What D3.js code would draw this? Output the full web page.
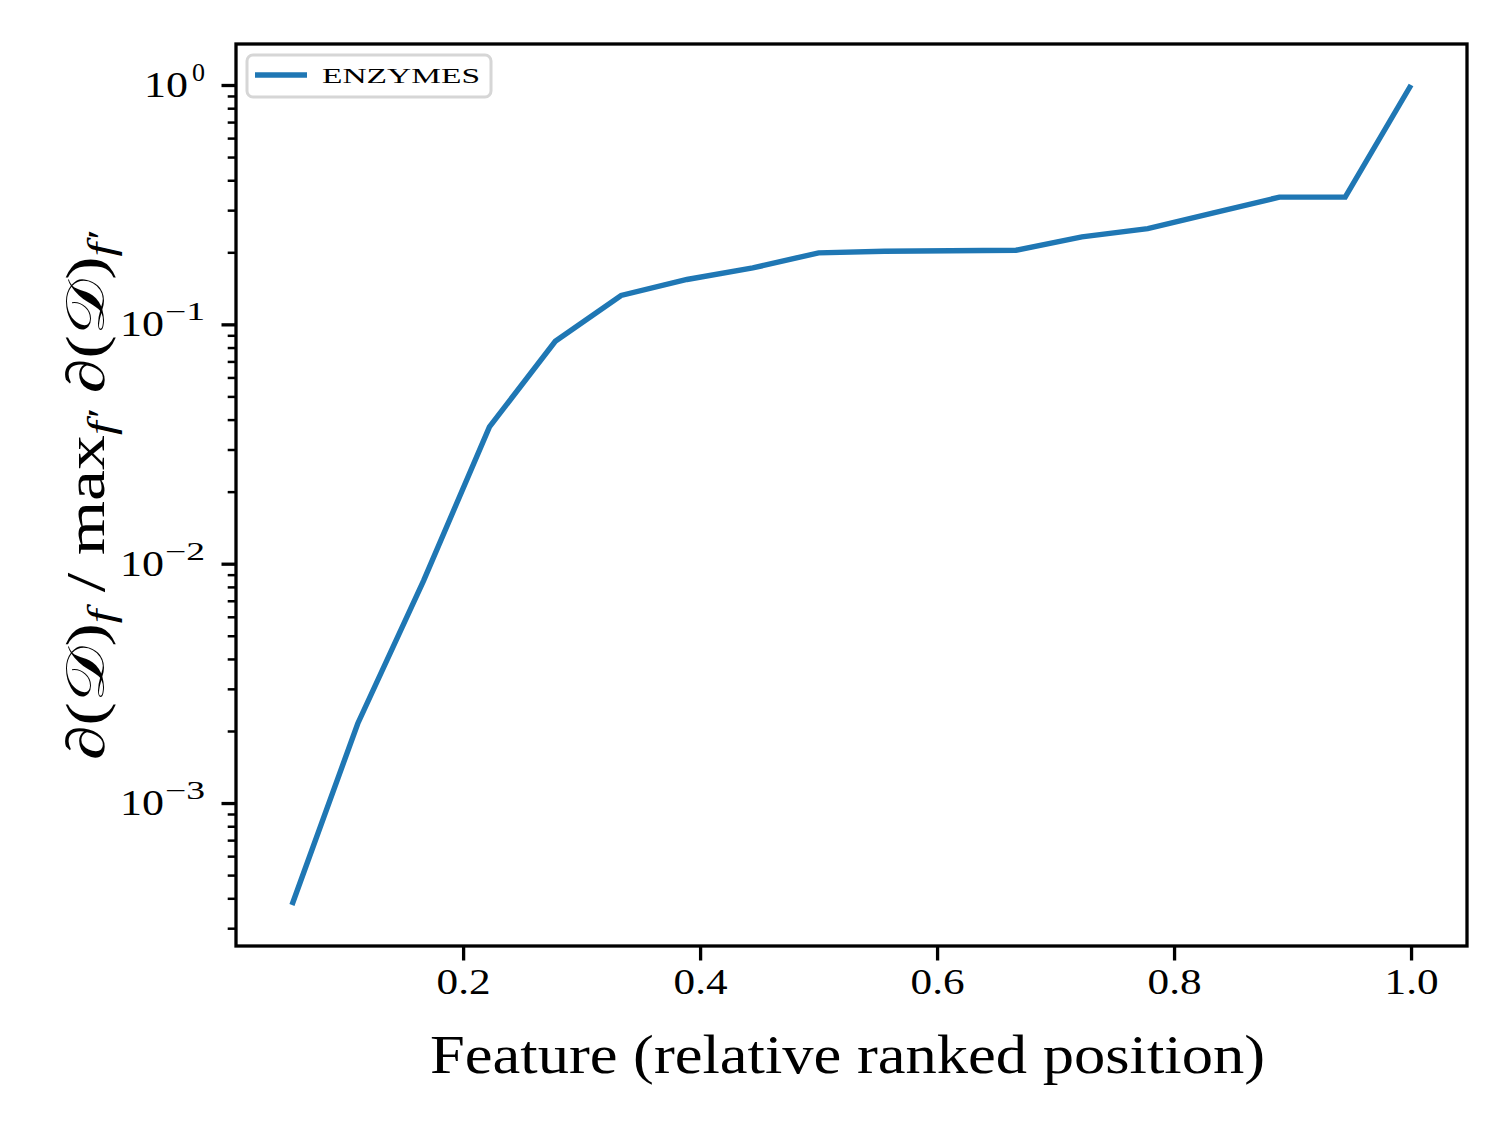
<!DOCTYPE html>
<html><head><meta charset="utf-8">
<script src="https://cdn.jsdelivr.net/npm/d3@7"></script>
<style>
html,body{margin:0;padding:0;background:#fff;}
svg text{font-family:"Liberation Serif","DejaVu Serif",serif;fill:#000;}
</style></head>
<body><svg id="chart" width="1511" height="1133"></svg>
<script>
// ----- data -----
const seriesName = "ENZYMES";
const positions = [1,2,3,4,5,6,7,8,9,10,11,12,13,14,15,16,17,18].map(k => k/18);
const values = [3.75e-4, 2.15e-3, 8.5e-3, 0.0373, 0.085, 0.132, 0.154, 0.172, 0.199, 0.202, 0.203, 0.204, 0.232, 0.251, 0.292, 0.340, 0.340, 1.0];
const xTicks = [0.2, 0.4, 0.6, 0.8, 1.0];
const yTickExps = [0, -1, -2, -3];

const svg = d3.select("#chart");
const L = 236, R = 1467, T = 44, B = 946;

const x = d3.scaleLinear().domain([0.00833, 1.04722]).range([L, R]);
const ly = d3.extent(values.map(Math.log10));
const pad = (ly[1]-ly[0])*0.05;
const y = d3.scaleLog().domain([Math.pow(10, ly[0]-pad), Math.pow(10, ly[1]+pad)]).range([B, T]);

// line
const line = d3.line().x((d,i)=>x(positions[i])).y(d=>y(d));
svg.append("path").datum(values).attr("d", line)
  .attr("fill","none").attr("stroke","#1f77b4").attr("stroke-width",5.4)
  .attr("stroke-linejoin","miter").attr("stroke-linecap","butt");

// x axis
const xAxis = d3.axisBottom(x).tickValues(xTicks).tickFormat(d3.format(".1f")).tickSize(14.5).tickPadding(9);
const gx = svg.append("g").attr("transform",`translate(0,${B})`).call(xAxis);
gx.select(".domain").remove();
gx.selectAll(".tick line").attr("stroke","#000").attr("stroke-width",3.3);
gx.selectAll(".tick text").attr("font-size",35).attr("font-family","Liberation Serif").attr("dy","0.71em")
  .attr("textLength",54).attr("lengthAdjust","spacingAndGlyphs");

// y axis major
const majors = yTickExps.map(e => Math.pow(10, e));
const yAxis = d3.axisLeft(y).tickValues(majors).tickFormat("").tickSize(14.5);
const gy = svg.append("g").attr("transform",`translate(${L},0)`).call(yAxis);
gy.select(".domain").remove();
gy.selectAll(".tick line").attr("stroke","#000").attr("stroke-width",3.3);
// minor
const minors = [];
for (let e=-4; e<=0; e++) for (let m=2; m<=9; m++) { const v = m*Math.pow(10,e); if (v>=y.domain()[0] && v<=y.domain()[1]) minors.push(v); }
const gym = svg.append("g").attr("transform",`translate(${L},0)`).call(d3.axisLeft(y).tickValues(minors).tickFormat("").tickSize(8.3));
gym.select(".domain").remove();
gym.selectAll(".tick line").attr("stroke","#000").attr("stroke-width",2.5);

// y tick labels
yTickExps.forEach(e => {
  const yy = y(Math.pow(10,e)) + 12;
  svg.append("text").attr("y", yy).attr("font-size",35)
    .attr("textLength",44).attr("lengthAdjust","spacingAndGlyphs").text("10").attr("x", e===0 ? 144 : 120);
  const sup = e===0 ? "0" : "\u2212" + (-e);
  svg.append("text").attr("x", 205).attr("y", yy - 16).attr("text-anchor","end").attr("font-size",25)
    .attr("textLength", e===0 ? 13 : 40).attr("lengthAdjust","spacingAndGlyphs").text(sup);
});

// frame
svg.append("rect").attr("x",L).attr("y",T).attr("width",R-L).attr("height",B-T)
  .attr("fill","none").attr("stroke","#000").attr("stroke-width",3.3);

// x label
svg.append("text").attr("x",430).attr("y",1073)
  .attr("font-size",54).attr("textLength",835).attr("lengthAdjust","spacingAndGlyphs").text("Feature (relative ranked position)");

// y label
const yl = svg.append("text").attr("transform","translate(104,760) rotate(-90)").attr("font-size",54)
  .attr("textLength",528).attr("lengthAdjust","spacingAndGlyphs");
const D = "\uD835\uDC9F";
yl.append("tspan").text("\u2202(" + D + ")");
yl.append("tspan").attr("font-size",38).attr("font-style","italic").attr("dy",10).text("f");
yl.append("tspan").attr("dy",-10).text(" / max");
yl.append("tspan").attr("font-size",38).attr("font-style","italic").attr("dy",10).text("f\u2032");
yl.append("tspan").attr("dy",-10).text(" \u2202(" + D + ")");
yl.append("tspan").attr("font-size",38).attr("font-style","italic").attr("dy",10).text("f\u2032");

// legend
svg.append("rect").attr("x",247).attr("y",55).attr("width",244).attr("height",42).attr("rx",6)
  .attr("fill","#fff").attr("fill-opacity",0.8).attr("stroke","#d6d6d6").attr("stroke-width",3);
svg.append("line").attr("x1",255).attr("x2",307).attr("y1",75).attr("y2",75).attr("stroke","#1f77b4").attr("stroke-width",5.4);
svg.append("text").attr("x",322).attr("y",83).attr("font-size",22).attr("textLength",158).attr("lengthAdjust","spacingAndGlyphs").text(seriesName);
</script></body></html>
